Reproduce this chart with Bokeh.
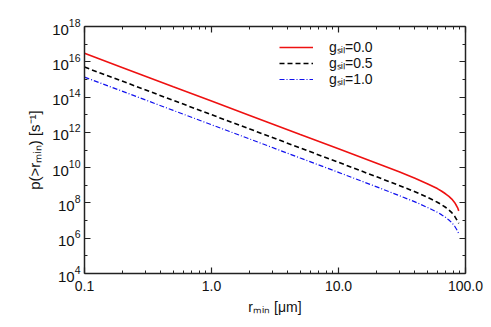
from bokeh.plotting import figure
from bokeh.models import (LogAxis, FixedTicker, CustomJSTickFormatter, Legend, LegendItem,
                          LogTickFormatter)
from bokeh.embed import file_html
from bokeh.resources import INLINE

# data
r_min = [0.1, 0.2, 0.5, 1.0, 2.0, 5.0, 10.0, 20.0, 30.0, 40.0, 50.0, 60.0, 65.0, 70.0, 74.0,
         78.0, 82.0, 85.0, 87.0, 88.5]
p_g00 = [3.0e16, 4.6e15, 3.8e14, 5.9e13, 9.1e12, 7.6e11, 1.17e11, 1.8e10, 5.8e9, 2.5e9, 1.23e9,
         6.5e8, 4.6e8, 3.2e8, 2.35e8, 1.66e8, 1.07e8, 6.9e7, 5.0e7, 3.55e7]
p_g05 = [5.0e15, 7.8e14, 6.5e13, 1.0e13, 1.55e12, 1.3e11, 2.0e10, 3.0e9, 9.8e8, 4.3e8, 2.1e8,
         1.1e8, 7.8e7, 5.5e7, 4.0e7, 2.8e7, 1.8e7, 1.17e7, 8.5e6, 7.0e6]
p_g10 = [1.35e15, 2.1e14, 1.75e13, 2.7e12, 4.2e11, 3.5e10, 5.4e9, 8.1e8, 2.6e8, 1.15e8, 5.6e7,
         2.95e7, 2.1e7, 1.48e7, 1.07e7, 7.6e6, 4.9e6, 3.2e6, 2.4e6, 1.8e6]
labels = ["g\u209b\u1d62\u2097=0.0", "g\u209b\u1d62\u2097=0.5", "g\u209b\u1d62\u2097=1.0"]

x_major = [0.1, 1.0, 10.0, 100.0]
x_minor = [m * d for d in (0.1, 1.0, 10.0) for m in range(2, 10)]
y_major = [1e4, 1e6, 1e8, 1e10, 1e12, 1e14, 1e16, 1e18]
y_minor = [1e5, 1e7, 1e9, 1e11, 1e13, 1e15, 1e17]

FONT = "Liberation Sans"

p = figure(x_axis_type="log", y_axis_type="log", x_range=(0.1, 100.0), y_range=(1e4, 1e18),
           frame_width=381, frame_height=247, output_backend="svg", toolbar_location=None,
           min_border_left=84, min_border_right=26, min_border_top=26, min_border_bottom=54)
p.xgrid.visible = False
p.ygrid.visible = False
p.outline_line_color = None
p.background_fill_color = "white"

xt = FixedTicker(ticks=x_major, minor_ticks=x_minor)
yt = FixedTicker(ticks=y_major, minor_ticks=y_minor)

def style(ax):
    ax.axis_line_color = "#222222"
    ax.axis_line_width = 1.5
    ax.major_tick_in = 6
    ax.major_tick_out = 0
    ax.minor_tick_in = 3
    ax.minor_tick_out = 0
    ax.major_tick_line_color = "#222222"
    ax.minor_tick_line_color = "#222222"
    ax.major_tick_line_width = 1.2
    ax.minor_tick_line_width = 1.0
    ax.major_label_text_font = FONT
    ax.major_label_text_color = "#111111"
    ax.axis_label_text_font = FONT
    ax.axis_label_text_font_style = "normal"
    ax.axis_label_text_color = "#111111"

xa = p.xaxis[0]
xa.ticker = xt
xa.formatter = CustomJSTickFormatter(code="return tick.toFixed(1);")
style(xa)
xa.major_label_text_font_size = "14px"
xa.major_label_standoff = 7
xa.axis_label = "r\u2098\u1d62\u2099 [\u03bcm]"
xa.axis_label_text_font_size = "14px"
xa.axis_label_standoff = 5

ya = p.yaxis[0]
ya.ticker = yt
ya.formatter = LogTickFormatter()
style(ya)
ya.major_label_text_font_size = "15px"
ya.major_label_standoff = 4
ya.axis_label = "p(>r\u2098\u1d62\u2099) [s\u207b\u00b9]"
ya.axis_label_text_font_size = "15px"
ya.axis_label_standoff = 6

top = LogAxis(ticker=FixedTicker(ticks=x_major, minor_ticks=x_minor),
              formatter=CustomJSTickFormatter(code="return '';"))
style(top)
top.major_label_standoff = 0
p.add_layout(top, "above")
right = LogAxis(ticker=FixedTicker(ticks=y_major, minor_ticks=y_minor),
                formatter=CustomJSTickFormatter(code="return '';"))
style(right)
right.major_label_standoff = 0
p.add_layout(right, "right")

l0 = p.line(r_min, p_g00, line_color="#ee1111", line_width=1.6)
l1 = p.line(r_min, p_g05, line_color="black", line_width=1.6, line_dash="5 3")
l2 = p.line(r_min, p_g10, line_color="#1111ee", line_width=1.2, line_dash="5 2 1 2")

# one legend per row, so the rows can sit as tightly as in the reference
row_bottoms = [217, 201, 185]
for lab, ren, yb in zip(labels, [l0, l1, l2], row_bottoms):
    lg = Legend(items=[LegendItem(label=lab, renderers=[ren])],
                location=(195, yb), border_line_color=None, background_fill_alpha=0,
                padding=0, spacing=0, margin=0, label_height=12, glyph_height=12,
                glyph_width=34, label_standoff=16, label_text_font=FONT,
                label_text_font_size="14px", label_text_color="#111111")
    p.add_layout(lg, "center")

open("out.html", "w").write(file_html(p, INLINE))
